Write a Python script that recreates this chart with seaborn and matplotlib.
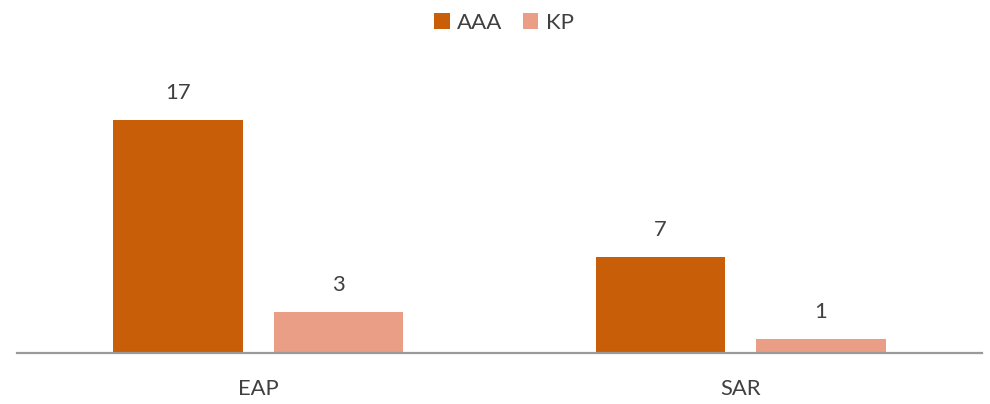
import matplotlib
matplotlib.use("Agg")
import matplotlib.pyplot as plt
import seaborn as sns
import pandas as pd

categories = ["EAP", "SAR"]
series_names = ["AAA", "KP"]
aaa_values = [17, 7]
kp_values = [3, 1]
colors = ["#C85E07", "#EA9E85"]

df = pd.DataFrame({
    "region": categories * 2,
    "series": [series_names[0]] * 2 + [series_names[1]] * 2,
    "value": aaa_values + kp_values,
})

sns.set_theme(style="white")
plt.rcParams["font.family"] = ["Lato", "DejaVu Sans"]

fig = plt.figure(figsize=(9.9, 4.04), dpi=100)
ax = fig.add_axes([17/990, 51.3/404, 965/990, 274/404])

sns.barplot(data=df, x="region", y="value", hue="series", order=categories,
            hue_order=series_names, palette=colors, saturation=1, width=0.665, gap=0.194,
            linewidth=0, ax=ax, legend=False)

ax.set_ylim(0, 20)
ax.set_xlim(-0.5, 1.5)
ax.set_xlabel("")
ax.set_ylabel("")
ax.set_yticks([])
for s in ["top", "right", "left"]:
    ax.spines[s].set_visible(False)
ax.spines["bottom"].set_color("#9a9a9a")
ax.spines["bottom"].set_linewidth(1.6)
ax.tick_params(axis="x", length=0, pad=19, labelsize=15.8, labelcolor="#404040")

for cont in ax.containers:
    ax.bar_label(cont, padding=12, fontsize=15.8, color="#404040")

from matplotlib.patches import Patch
handles = [Patch(facecolor=c, edgecolor="none", label=n) for c, n in zip(colors, series_names)]
fig.legend(handles=handles, loc="center", bbox_to_anchor=(504/990, 1 - 23/404), ncol=2,
           frameon=False, fontsize=16, handlelength=0.7, handleheight=0.7,
           handletextpad=0.35, columnspacing=0.9, labelcolor="#404040")

fig.savefig("out.png", dpi=100)
